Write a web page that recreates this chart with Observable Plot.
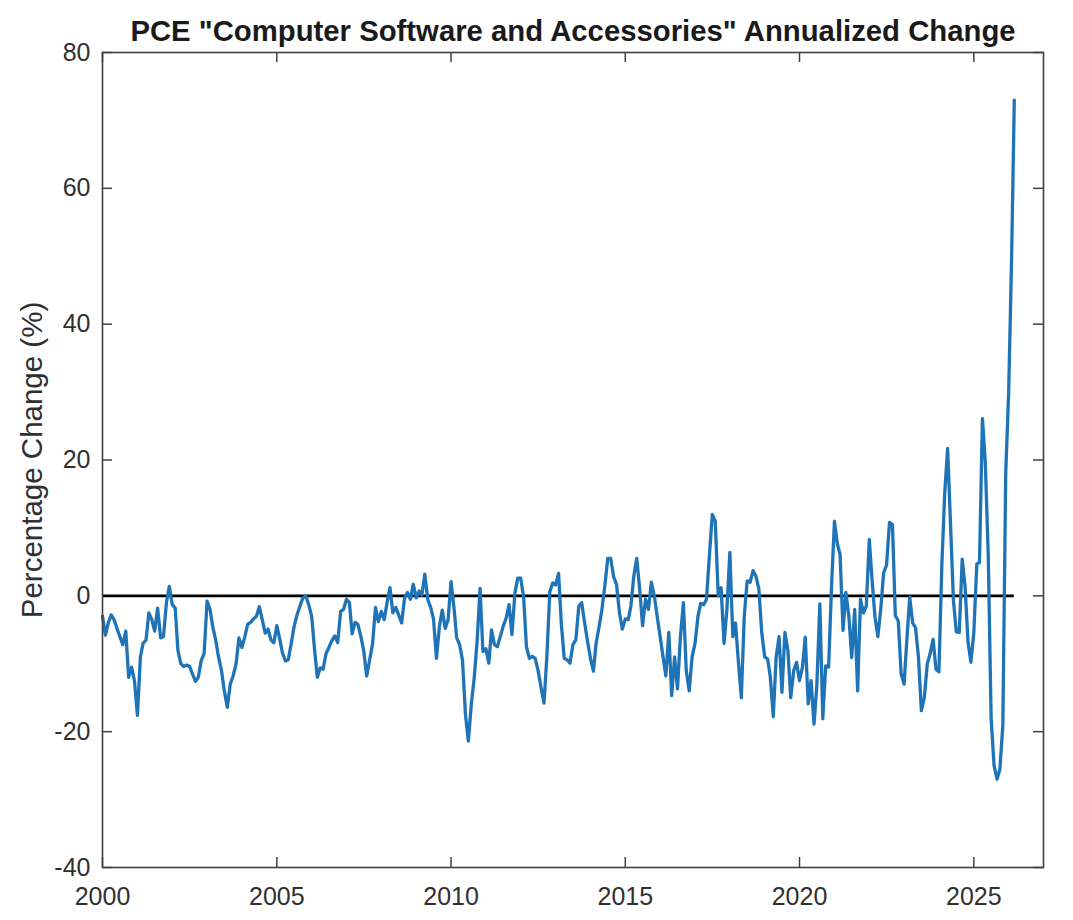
<!DOCTYPE html>
<html>
<head>
<meta charset="utf-8">
<script src="https://cdn.jsdelivr.net/npm/d3@7"></script>
<script src="https://cdn.jsdelivr.net/npm/@observablehq/plot@0.6"></script>
<style>
  html, body { margin: 0; padding: 0; background: #ffffff; }
  #chart { width: 1073px; height: 920px; }
</style>
</head>
<body>
<div id="chart"></div>
<script>
// Monthly annualized % change, starting January of the first year of each block
const v2000_2004 = [
  -3, -5.8, -4, -2.8, -3.5, -4.8, -6, -7.2, -5.2, -12, -10.5, -12.5,
  -17.6, -9, -7, -6.5, -2.5, -3.5, -5.2, -1.8, -6.2, -6, -1, 1.4,
  -1.3, -1.8, -8, -10, -10.4, -10.2, -10.4, -11.5, -12.6, -12, -9.5, -8.5,
  -0.8, -2, -4.5, -6.5, -9, -11, -14, -16.4, -13, -11.8, -10, -6.2,
  -7.6, -6, -4.2, -3.9, -3.4, -3, -1.6, -3.5, -5.5, -4.9, -6.5, -6.9
];
const v2005_2009 = [
  -4.4, -6.4, -8.4, -9.6, -9.4, -7, -4.5, -2.8, -1.5, -0.3, 0, -1.3,
  -3, -8, -12, -10.6, -10.8, -8.5, -7.6, -6.6, -5.9, -6.9, -2.3, -2,
  -0.5, -1, -5.6, -3.9, -4.2, -6, -8.1, -11.8, -9.4, -7.1, -1.7, -3.8,
  -2.3, -3.5, -1, 1.2, -2.5, -1.7, -2.8, -4, -0.3, 0.5, -0.5, 1.7,
  -0.3, 0.7, 0.1, 3.2, -0.5, -1.7, -3.4, -9.2, -4.5, -2.1, -4.8, -3.5
];
const v2010_2014 = [
  2.1, -1.8, -6.2, -7.2, -9.5, -17.5, -21.4, -16, -12, -6.7, 1.1, -8.2,
  -7.8, -9.9, -5, -7.2, -7.5, -6, -4.5, -3.3, -1.3, -5.7, 0.4, 2.6,
  2.6, -0.3, -7.5, -9.2, -8.9, -9.2, -11, -13.5, -15.8, -9, 0.6, 1.9,
  1.6, 3.3, -4, -9.2, -9.4, -9.9, -7.2, -6.5, -1.5, -1, -4, -6.7,
  -9.2, -11.1, -7, -4.6, -2, 1.5, 5.5, 5.5, 2.8, 1.7, -2.5, -4.9
];
const v2015_2019 = [
  -3.4, -3.5, -1.5, 3, 5.5, 1, -4.4, -0.5, -2, 2, 0, -3,
  -6, -9, -11.8, -5.4, -14.7, -9, -13.7, -6, -1, -11, -14, -9,
  -7, -3, -1.1, -1.3, -0.5, 6, 12, 11, 0, 1.2, -7, -2,
  6.4, -6, -4, -9.8, -15, -3, 2.2, 2, 3.7, 2.9, 1, -5.4,
  -9, -9.3, -12, -17.8, -9, -6, -14.2, -5.4, -8, -15, -11, -9.8
];
const v2020_2024 = [
  -12.5, -10.5, -6.1, -15.9, -12.5, -18.9, -13, -1.2, -18.1, -10.3, -10.5, 1.2,
  11, 7.6, 6.1, -5.1, 0.5, -3, -9.1, -2, -14, -0.5, -2.5, -1.5,
  8.3, 2, -3, -6, -2, 3.4, 4.5, 10.8, 10.5, -2.9, -3.7, -11.5,
  -13, -6, -0.2, -4, -4.7, -9.1, -16.9, -15, -10, -8.5, -6.4, -10.8,
  -11.2, 4.7, 14.9, 21.7, 10.8, -0.7, -5.3, -5.4, 5.4, 1.4, -6.8, -9.8
];
const v2025_2026 = [
  -5.4, 4.7, 4.9, 26.1, 19.6, 6, -18, -25, -27, -25.5, -19, 18,
  30, 50, 73
];

const blocks = [
  {startYear: 2000, values: v2000_2004},
  {startYear: 2005, values: v2005_2009},
  {startYear: 2010, values: v2010_2014},
  {startYear: 2015, values: v2015_2019},
  {startYear: 2020, values: v2020_2024},
  {startYear: 2025, values: v2025_2026}
];

const xTickYears = [2000, 2005, 2010, 2015, 2020, 2025];
const yTicks = [-40, -20, 0, 20, 40, 60, 80];
const xDomainYears = [2000, 2027];

const titleText = 'PCE "Computer Software and Accessories" Annualized Change';
const yLabelText = "Percentage Change (%)";

const data = blocks.flatMap(b =>
  b.values.map((v, i) => ({date: new Date(Date.UTC(b.startYear, i, 1)), value: v}))
);
const xTickDates = xTickYears.map(y => new Date(Date.UTC(y, 0, 1)));
const firstDate = data[0].date;
const lastDate = data[data.length - 1].date;

const W = 1073, H = 920;
const mL = 102, mR = 30, mT = 52, mB = 53;
const plotW = W - mL - mR, plotH = H - mT - mB;
const axisColor = "#404040";
const textColor = "#303030";
const tickLen = 10;

const chart = Plot.plot({
  width: W,
  height: H,
  marginLeft: mL,
  marginRight: mR,
  marginTop: mT,
  marginBottom: mB,
  style: {
    fontFamily: "'Liberation Sans', Arial, Helvetica, sans-serif",
    fontSize: "25px",
    color: textColor,
    background: "#ffffff",
    overflow: "visible"
  },
  x: {type: "utc", domain: xDomainYears.map(y => new Date(Date.UTC(y, 0, 1)))},
  y: {domain: [yTicks[0], yTicks[yTicks.length - 1]]},
  marks: [
    Plot.axisX({ticks: xTickDates, tickSize: 0, tickPadding: 20, tickFormat: d => String(d.getUTCFullYear()), label: null}),
    Plot.axisY({ticks: yTicks, tickSize: 0, tickPadding: 12, tickFormat: d => String(d), label: null}),
    // inward ticks on all four sides (box style)
    Plot.tickX(xTickDates, {x: d => d, insetTop: plotH - tickLen, stroke: axisColor, strokeWidth: 1.5}),
    Plot.tickX(xTickDates, {x: d => d, insetBottom: plotH - tickLen, stroke: axisColor, strokeWidth: 1.5}),
    Plot.tickY(yTicks, {y: d => d, insetRight: plotW - tickLen, stroke: axisColor, strokeWidth: 1.5}),
    Plot.tickY(yTicks, {y: d => d, insetLeft: plotW - tickLen, stroke: axisColor, strokeWidth: 1.5}),
    Plot.ruleY([0], {x1: firstDate, x2: lastDate, stroke: "#000000", strokeWidth: 2.6}),
    Plot.line(data, {x: "date", y: "value", stroke: "#1f74b8", strokeWidth: 3.3, strokeLinejoin: "round"}),
    Plot.frame({stroke: axisColor, strokeWidth: 1.6}),
    Plot.text([titleText], {frameAnchor: "top", dy: -21, lineAnchor: "middle", textAnchor: "middle", fontWeight: "bold", fontSize: 29.3, fill: "#1a1a1a"}),
    Plot.text([yLabelText], {frameAnchor: "left", dx: -70, rotate: -90, lineAnchor: "middle", textAnchor: "middle", fontSize: 29.5, fill: textColor})
  ]
});

document.getElementById("chart").appendChild(chart);
</script>
</body>
</html>
